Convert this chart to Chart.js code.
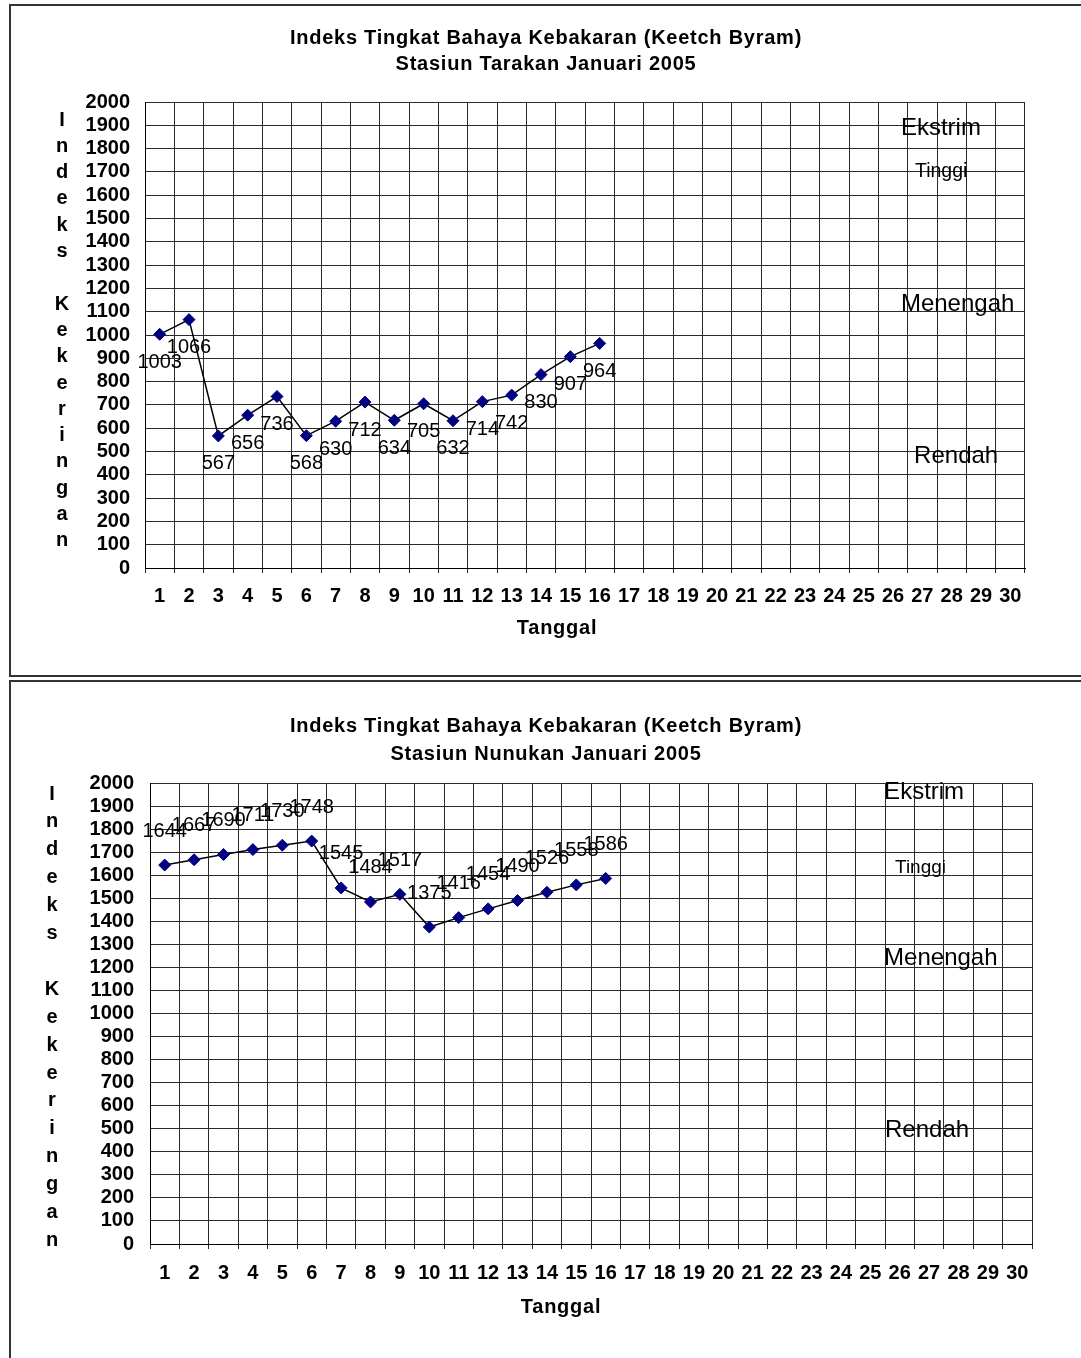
<!DOCTYPE html>
<html>
<head>
<meta charset="utf-8">
<script src="https://cdn.jsdelivr.net/npm/chart.js@4.4.1/dist/chart.umd.min.js"></script>
<style>
  body { margin: 0; background: #fff; overflow: hidden; }
  .bingkai { position: absolute; left: 9px; width: 1100px; box-sizing: border-box; border: 2px solid #333; background: #fff; }
  #bingkai-tarakan { top: 4px; height: 673px; }
  #bingkai-nunukan { top: 680px; height: 700px; }
  canvas { display: block; }
</style>
</head>
<body>
<div class="bingkai" id="bingkai-tarakan"><canvas id="chart-tarakan" width="1096" height="669"></canvas></div>
<div class="bingkai" id="bingkai-nunukan"><canvas id="chart-nunukan" width="1096" height="696"></canvas></div>
<script>
  /*
    ==================================================
    ====================== DATA ======================
    ==================================================
  */

  const tanggal = ['1', '2', '3', '4', '5', '6', '7', '8', '9', '10',
    '11', '12', '13', '14', '15', '16', '17', '18', '19', '20',
    '21', '22', '23', '24', '25', '26', '27', '28', '29', '30'];

  const indeksTarakan = [1003, 1066, 567, 656, 736, 568, 630, 712, 634, 705, 632, 714, 742, 830, 907, 964];
  const indeksNunukan = [1644, 1667, 1690, 1711, 1730, 1748, 1545, 1484, 1517, 1375, 1416, 1454, 1490, 1526, 1558, 1586];

  const zonaBahaya = ['Ekstrim', 'Tinggi', 'Menengah', 'Rendah'];

  const judulTarakan = ['Indeks Tingkat Bahaya Kebakaran (Keetch Byram)', 'Stasiun Tarakan Januari 2005'];
  const judulNunukan = ['Indeks Tingkat Bahaya Kebakaran (Keetch Byram)', 'Stasiun Nunukan Januari 2005'];

  const judulSumbuY = 'Indeks Kekeringan';
  const judulSumbuX = 'Tanggal';

  const HURUF = '"Liberation Sans", Arial, sans-serif';

  /*
    ==================================================
    ============ TEKS TAMBAHAN (PLUGIN) ==============
    ==================================================
  */

  const teksTambahan = {
    id: 'teksTambahan',
    afterDatasetsDraw(chart, args, opts) {
      let { ctx } = chart;
      let meta = chart.getDatasetMeta(0);
      let nilai = chart.data.datasets[0].data;
      ctx.save();
      ctx.fillStyle = '#000';
      ctx.font = '20px ' + HURUF;
      ctx.textAlign = 'center';
      ctx.textBaseline = 'middle';
      meta.data.forEach((titik, i) => {
        ctx.fillText(String(nilai[i]), titik.x, titik.y + opts.labelGeser);
      });
      ctx.restore();
    },
    afterDraw(chart, args, opts) {
      let { ctx, scales: { x, y } } = chart;
      ctx.save();
      ctx.fillStyle = '#000';
      ctx.textBaseline = 'middle';
      ctx.textAlign = 'center';

      // judul grafik
      ctx.font = 'bold 20px ' + HURUF;
      ctx.letterSpacing = '0.75px';
      opts.judul.forEach((baris, i) => {
        ctx.fillText(baris, opts.judulX, opts.judulY + i * opts.judulJarak);
      });

      // judul sumbu x
      ctx.fillText(judulSumbuX, opts.tanggalX, opts.tanggalY);

      // judul sumbu y, satu huruf per baris
      ctx.letterSpacing = '0px';
      [...judulSumbuY].forEach((h, i) => {
        ctx.fillText(h, opts.hurufX, opts.hurufY + i * opts.hurufJarak);
      });

      // label zona bahaya
      ctx.textAlign = 'left';
      opts.zona.forEach((z, i) => {
        ctx.font = z.ukuran + 'px ' + HURUF;
        ctx.fillText(zonaBahaya[i], x.getPixelForValue(z.x), y.getPixelForValue(z.y));
      });
      ctx.restore();
    }
  };

  /*
    ==================================================
    ================= BUAT GRAFIK ====================
    ==================================================
  */

  function buatGrafik(idCanvas, nilai, judul, s) {
    let canvas = document.getElementById(idCanvas).getContext('2d');
    return new Chart(canvas, {
      type: 'line',
      data: {
        labels: tanggal,
        datasets: [{
          data: nilai,
          borderColor: '#000',
          borderWidth: 1.5,
          pointStyle: 'rectRot',
          pointRadius: 6,
          pointBackgroundColor: '#000080',
          pointBorderColor: '#000080',
          pointBorderWidth: 1,
          tension: 0,
          clip: false
        }]
      },
      options: {
        responsive: false,
        animation: false,
        layout: { padding: { top: s.atas, right: s.kanan, left: 0, bottom: 0 } },
        plugins: {
          legend: { display: false },
          tooltip: { enabled: false },
          title: { display: false },
          teksTambahan: {
            judul: judul,
            judulX: s.judulX, judulY: s.judulY, judulJarak: s.judulJarak,
            tanggalX: s.tanggalX, tanggalY: s.tanggalY,
            hurufX: s.hurufX, hurufY: s.hurufY, hurufJarak: s.hurufJarak,
            labelGeser: s.labelGeser,
            zona: s.zona
          }
        },
        scales: {
          x: {
            offset: true,
            grid: { offset: true, color: '#2a2a2a', lineWidth: 1, drawTicks: true, tickLength: 5 },
            border: { color: '#000', width: 1 },
            ticks: {
              autoSkip: false, maxRotation: 0, padding: s.xPad, color: '#000',
              font: { family: HURUF, size: 20, weight: 'bold' }
            },
            afterFit: (scale) => { scale.height = s.xTinggi; }
          },
          y: {
            min: 0, max: 2000,
            grid: { color: '#2a2a2a', lineWidth: 1, drawTicks: false },
            border: { color: '#000', width: 1 },
            ticks: {
              stepSize: 100, autoSkip: false, padding: s.yPad, color: '#000',
              font: { family: HURUF, size: 20, weight: 'bold' },
              callback: (v) => String(v)
            },
            afterFit: (scale) => { scale.width = s.yLebar; }
          }
        }
      },
      plugins: [teksTambahan]
    });
  }

  /*
    ==================================================
    =============== GRAFIK TARAKAN ===================
    ==================================================
  */

  let grafikTarakan = buatGrafik('chart-tarakan', indeksTarakan, judulTarakan, {
    atas: 96, kanan: 82,
    yLebar: 134, yPad: 15,
    xTinggi: 107, xPad: 11,
    judulX: 535, judulY: 32, judulJarak: 26,
    tanggalX: 546, tanggalY: 622,
    hurufX: 51, hurufY: 114, hurufJarak: 26.3,
    labelGeser: 28,
    zona: [
      { x: 25.27, y: 1888, ukuran: 24 },
      { x: 25.75, y: 1700, ukuran: 19.5 },
      { x: 25.27, y: 1133, ukuran: 24 },
      { x: 25.72, y: 481, ukuran: 24 }
    ]
  });

  /*
    ==================================================
    =============== GRAFIK NUNUKAN ===================
    ==================================================
  */

  let grafikNunukan = buatGrafik('chart-nunukan', indeksNunukan, judulNunukan, {
    atas: 101, kanan: 75,
    yLebar: 139, yPad: 16,
    xTinggi: 134, xPad: 12,
    judulX: 535, judulY: 44, judulJarak: 28,
    tanggalX: 550, tanggalY: 625,
    hurufX: 41, hurufY: 112, hurufJarak: 27.9,
    labelGeser: -34,
    zona: [
      { x: 24.47, y: 1961, ukuran: 24 },
      { x: 24.84, y: 1631, ukuran: 19 },
      { x: 24.47, y: 1241, ukuran: 24 },
      { x: 24.5, y: 495, ukuran: 24 }
    ]
  });
</script>
</body>
</html>
